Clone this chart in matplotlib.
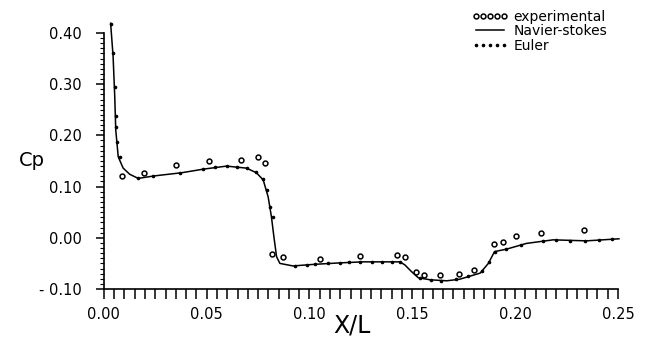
import matplotlib
matplotlib.use('Agg')
import matplotlib.pyplot as plt
from matplotlib.ticker import MultipleLocator, FixedLocator
import numpy as np

# experimental points
exp_x = [0.0086, 0.0193, 0.035, 0.051, 0.0668, 0.0752, 0.0785, 0.0817, 0.0872,
         0.105, 0.1245, 0.1427, 0.1464, 0.1516, 0.1558, 0.1633, 0.1727, 0.180,
         0.1897, 0.1939, 0.2002, 0.2124, 0.2335]
exp_cp = [0.121, 0.127, 0.142, 0.150, 0.152, 0.157, 0.146, -0.032, -0.038,
          -0.041, -0.036, -0.034, -0.038, -0.067, -0.072, -0.073, -0.071, -0.062,
          -0.013, -0.009, 0.004, 0.010, 0.015]

# Navier-Stokes (solid)
ns_x = [0.0033, 0.0045, 0.0053, 0.0058, 0.0070, 0.0094, 0.0126, 0.0167, 0.0248,
        0.0378, 0.0483, 0.0597, 0.0694, 0.0742, 0.0775, 0.0799, 0.0815, 0.0827,
        0.084, 0.0856, 0.092, 0.1018, 0.1148, 0.126, 0.144, 0.1464, 0.1496,
        0.1529, 0.1586, 0.1667, 0.173, 0.183, 0.187, 0.190, 0.196, 0.2055,
        0.2185, 0.2347, 0.2505]
ns_cp = [0.419, 0.354, 0.276, 0.210, 0.158, 0.136, 0.124, 0.116, 0.121,
         0.127, 0.134, 0.140, 0.136, 0.127, 0.113, 0.080, 0.041, 0.002,
         -0.037, -0.050, -0.055, -0.052, -0.049, -0.047, -0.047, -0.053, -0.066,
         -0.078, -0.082, -0.084, -0.081, -0.069, -0.050, -0.027, -0.022, -0.011,
         -0.004, -0.006, -0.002]

# Euler (dots)
eu_x = [0.0033, 0.0045, 0.0053, 0.0057, 0.0060, 0.0066, 0.0078, 0.0167, 0.024,
        0.037, 0.0483, 0.0543, 0.060, 0.0648, 0.0694, 0.0739, 0.0775, 0.0795,
        0.0808, 0.0821, 0.0929, 0.0986, 0.1026, 0.1088, 0.1148, 0.1193, 0.1248,
        0.1302, 0.1351, 0.140, 0.144, 0.1537, 0.1593, 0.1642, 0.1715, 0.1772,
        0.1837, 0.1874, 0.1902, 0.1955, 0.2031, 0.2136, 0.2201, 0.2266, 0.2339,
        0.2409, 0.2469]
eu_cp = [0.418, 0.360, 0.295, 0.238, 0.217, 0.188, 0.158, 0.116, 0.121,
         0.126, 0.134, 0.139, 0.141, 0.138, 0.136, 0.128, 0.114, 0.093,
         0.061, 0.040, -0.055, -0.054, -0.051, -0.049, -0.049, -0.048, -0.048,
         -0.048, -0.047, -0.047, -0.047, -0.079, -0.082, -0.084, -0.080, -0.074,
         -0.064, -0.047, -0.027, -0.022, -0.014, -0.006, -0.004, -0.006, -0.006,
         -0.004, -0.003]

fig = plt.figure(figsize=(6.45, 3.52), dpi=100)
ax = fig.add_axes([0.161, 0.179, 0.797, 0.771])

ax.plot(ns_x, ns_cp, color='black', lw=1.1, label='Navier-stokes', clip_on=False)
ax.plot(eu_x, eu_cp, linestyle='none', marker='o', ms=1.6, color='black',
        label='Euler', clip_on=False)
ax.plot(exp_x, exp_cp, linestyle='none', marker='o', ms=3.5, mfc='white',
        mec='black', mew=1.1, label='experimental', clip_on=False)

ax.set_xlim(0, 0.25)
ax.set_ylim(-0.10, 0.43)
for s in ['top', 'right']:
    ax.spines[s].set_visible(False)
ax.spines['left'].set_bounds(-0.10, 0.40)
ax.spines['left'].set_linewidth(1.2)
ax.spines['bottom'].set_linewidth(1.2)

ax.set_xticks(np.arange(0, 0.2501, 0.05))
ax.set_xticklabels(['0.00', '0.05', '0.10', '0.15', '0.20', '0.25'])
ax.xaxis.set_minor_locator(MultipleLocator(0.005))
ax.set_yticks(np.arange(-0.10, 0.401, 0.10))
ax.set_yticklabels(['- 0.10', '0.00', '0.10', '0.20', '0.30', '0.40'])
ax.yaxis.set_minor_locator(FixedLocator(np.arange(-0.10, 0.401, 0.01)))

ax.tick_params(axis='x', which='both', direction='out', length=7, width=1.1,
               labelsize=10.5, pad=6)
ax.tick_params(axis='y', which='major', direction='out', length=6, width=1.1,
               labelsize=10.5, pad=10)
ax.tick_params(axis='y', which='minor', direction='out', length=3, width=0.8)

fig.text(0.03, 0.545, 'Cp', fontsize=14, ha='left', va='center')
fig.text(0.545, 0.075, 'X/L', fontsize=17, ha='center', va='center')

handles, labels = ax.get_legend_handles_labels()
order = [2, 0, 1]
leg = ax.legend([handles[i] for i in order], [labels[i] for i in order],
                loc='upper right', bbox_to_anchor=(0.99, 1.05), frameon=False,
                fontsize=10, handlelength=2.6, labelspacing=0.05,
                handletextpad=0.4, numpoints=5, borderaxespad=0)

fig.savefig('out.png', dpi=100)
